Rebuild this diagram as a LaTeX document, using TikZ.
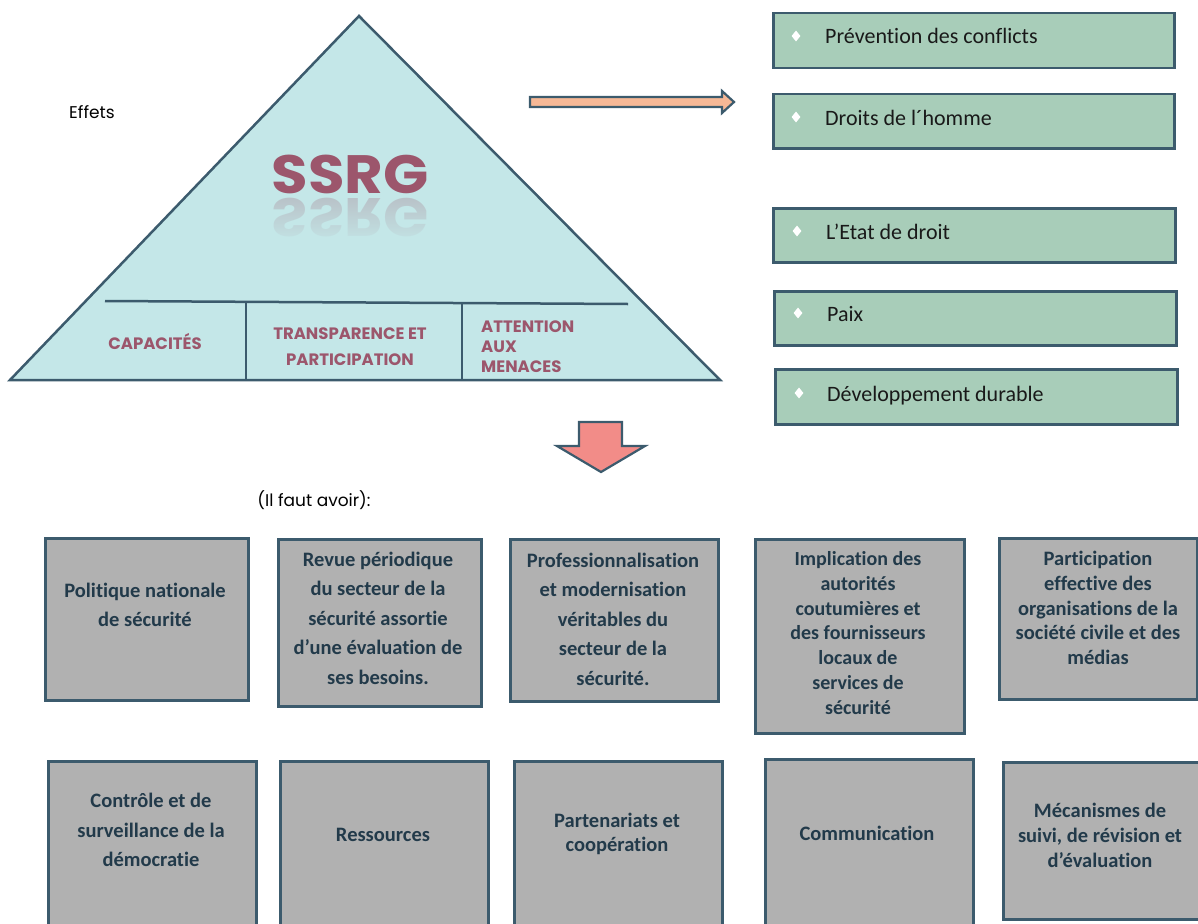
\documentclass[tikz,border=0pt]{standalone}
\usepackage{fontspec}
\usepackage{graphicx}
\setmainfont{Carlito}[RawFeature={-liga;-clig;-calt;-dlig}]
\newfontfamily\gothic{Poppins}
\usetikzlibrary{fadings,shapes.geometric}
\definecolor{edgec}{HTML}{3C5B6D}
\definecolor{trifill}{HTML}{C4E7E8}
\definecolor{peach}{HTML}{F6B896}
\definecolor{salmon}{HTML}{F28C88}
\definecolor{greenbox}{HTML}{A8CDB9}
\definecolor{graybox}{HTML}{B1B1B1}
\definecolor{darktext}{HTML}{223A4A}
\definecolor{mauve}{HTML}{9C566C}
\tikzset{
  rbox/.style={draw=edgec, fill=greenbox, line width=2.5pt, rectangle, inner sep=0pt, anchor=north west},
  gbox/.style={draw=edgec, fill=graybox, line width=2.5pt, rectangle, inner sep=0pt, anchor=north west},
  diam/.style={diamond, fill=white, inner sep=0pt, minimum width=9pt, minimum height=11pt},
  rtext/.style={font=\fontsize{22}{26}\selectfont, text=black!90, anchor=base west, inner sep=0pt},
  gtext/.style={font=\bfseries\fontsize{20.5}{29.5}\selectfont, text=darktext, align=center, inner sep=0pt},
  plab/.style={font=\gothic\bfseries\fontsize{16.5}{20}\selectfont, text=mauve, inner sep=0pt},
  note/.style={font=\gothic\fontsize{17}{20}\selectfont, text=black, inner sep=0pt},
  blockarrow/.style={draw=edgec, line width=2.2pt, line join=miter},
}
\newcommand\ssrgfont{\gothic\bfseries\fontsize{54}{58}\selectfont}
\newcommand\ssrgword{\scalebox{1.1}[1]{\ssrgfont SSRG}}
\begin{document}
\begin{tikzpicture}[x=1pt,y=-1pt]
\useasboundingbox (0,0) rectangle (1198,923);
\clip (0,0) rectangle (1198,923);

% pyramid
\draw[draw=edgec, fill=trifill, line width=2.5pt, line join=miter] (359,16) -- (720,380) -- (10,380) -- cycle;
\draw[edgec, line width=2.5pt] (105,301) -- (628,304);
\draw[edgec, line width=2.5pt] (246,302) -- (246,380);
\draw[edgec, line width=2.5pt] (462,303.5) -- (462,380);

% SSRG with reflection
\node[anchor=north, opacity=0.25, inner sep=0pt, text=mauve] (ssrgrefl) at (350,198) {\scalebox{1}[-1]{\ssrgword}};
\fill[trifill, path fading=north] (255,197) rectangle (445,246);
\node[anchor=base, inner sep=0pt, text=mauve] (ssrg) at (350,193) {\ssrgword};

\node[plab] (cap) at (155,342) {CAPACITÉS};
\node[plab, align=center, font=\gothic\bfseries\fontsize{16.5}{26}\selectfont] (tp) at (350,347) {TRANSPARENCE ET\\PARTICIPATION};
\node[plab, align=left, anchor=west] (att) at (481,347) {ATTENTION\\AUX\\MENACES};

\node[note] (effets) at (92,112) {Effets};
\node[note] (faut) at (314,500) {(Il faut avoir):};

% arrows
\draw[blockarrow, fill=peach] (530,97) -- (722,97) -- (722,91) -- (734,102) -- (722,113) -- (722,107) -- (530,107) -- cycle;
\draw[blockarrow, fill=salmon] (579,422) -- (622,422) -- (622,446) -- (645,446) -- (601,472) -- (557,446) -- (579,446) -- cycle;

% right boxes
\node[rbox, minimum width=401pt, minimum height=55pt] (r1) at (772,12) {};
\node[rbox, minimum width=401pt, minimum height=54pt] (r2) at (772,93) {};
\node[rbox, minimum width=402pt, minimum height=54pt] (r3) at (772,207) {};
\node[rbox, minimum width=402pt, minimum height=54pt] (r4) at (773,290) {};
\node[rbox, minimum width=402pt, minimum height=55pt] (r5) at (774,368) {};
\node[diam] (d1) at (796,36) {};
\node[diam] (d2) at (796,117) {};
\node[diam] (d3) at (797,231) {};
\node[diam] (d4) at (798,313) {};
\node[diam] (d5) at (799,393) {};
\node[rtext] (t1) at (825,44) {Prévention des conflicts};
\node[rtext] (t2) at (825,125) {Droits de l´homme};
\node[rtext] (t3) at (826,239) {L’Etat de droit};
\node[rtext] (t4) at (827,321) {Paix};
\node[rtext] (t5) at (827,401) {Développement durable};

% gray boxes row 1
\node[gbox, minimum width=203pt, minimum height=162pt] (b1) at (44,537) {};
\node[gbox, minimum width=203pt, minimum height=167pt] (b2) at (277,538) {};
\node[gbox, minimum width=208pt, minimum height=162pt] (b3) at (509,538) {};
\node[gbox, minimum width=209pt, minimum height=194pt] (b4) at (754,538) {};
\node[gbox, minimum width=198pt, minimum height=161pt] (b5) at (998,537) {};
\node[gtext] (bt1) at (145,605) {Politique nationale\\de sécurité};
\node[gtext] (bt2) at (378,618) {Revue périodique\\du secteur de la\\sécurité assortie\\d’une évaluation de\\ses besoins.};
\node[gtext] (bt3) at (613,619) {Professionnalisation\\et modernisation\\véritables du\\secteur de la\\sécurité.};
\node[gtext, font=\bfseries\fontsize{20}{24.8}\selectfont] (bt4) at (858,633) {Implication des\\autorités\\coutumières et\\des fournisseurs\\locaux de\\services de\\sécurité};
\node[gtext, font=\bfseries\fontsize{20.5}{24.8}\selectfont] (bt5) at (1098,608) {Participation\\effective des\\organisations de la\\société civile et des\\médias};

% gray boxes row 2
\node[gbox, minimum width=208pt, minimum height=175pt] (c1) at (47,760) {};
\node[gbox, minimum width=208pt, minimum height=175pt] (c2) at (279,760) {};
\node[gbox, minimum width=208pt, minimum height=175pt] (c3) at (513,760) {};
\node[gbox, minimum width=208pt, minimum height=177pt] (c4) at (764,758) {};
\node[gbox, minimum width=205pt, minimum height=157pt] (c5) at (1002,761) {};
\node[gtext] (ct1) at (151,830) {Contrôle et de\\surveillance de la\\démocratie};
\node[gtext] (ct2) at (383,835) {Ressources};
\node[gtext, font=\bfseries\fontsize{20.5}{24}\selectfont] (ct3) at (617,834) {Partenariats et\\coopération};
\node[gtext] (ct4) at (867,833) {Communication};
\node[gtext, font=\bfseries\fontsize{20.5}{25}\selectfont] (ct5) at (1100,835) {Mécanismes de\\suivi, de révision et\\d’évaluation};
\end{tikzpicture}
\end{document}
